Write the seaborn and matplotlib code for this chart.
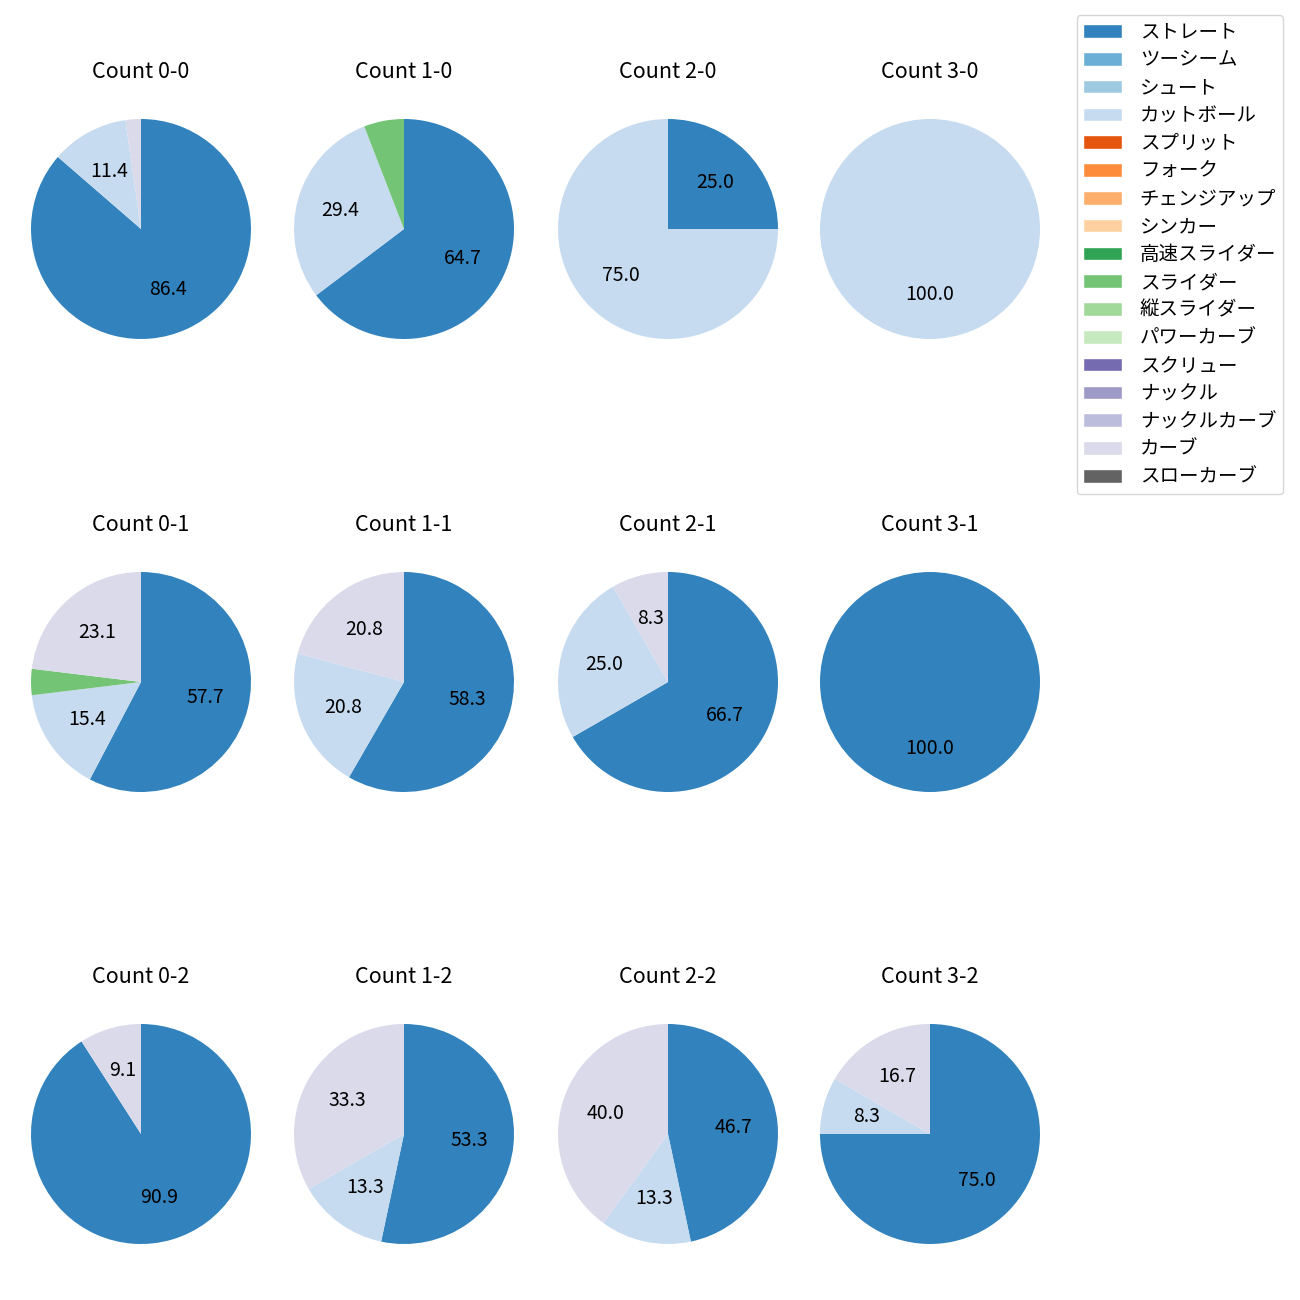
import matplotlib.pyplot as plt
import seaborn as sns
from matplotlib.patches import Patch

sns.set_style("white")
plt.rcParams["font.family"] = ["Noto Sans CJK JP", "DejaVu Sans"]
plt.rcParams["text.color"] = "black"

pitch_types = [
    "ストレート", "ツーシーム", "シュート", "カットボール",
    "スプリット", "フォーク", "チェンジアップ", "シンカー",
    "高速スライダー", "スライダー", "縦スライダー", "パワーカーブ",
    "スクリュー", "ナックル", "ナックルカーブ", "カーブ", "スローカーブ",
]
palette = sns.color_palette("tab20c", 17)
colors = dict(zip(pitch_types, palette))

# pitch counts per ball-strike count (balls, strikes)
counts = ["0-0", "1-0", "2-0", "3-0",
          "0-1", "1-1", "2-1", "3-1",
          "0-2", "1-2", "2-2", "3-2"]
straight = [38, 11, 1, 0, 15, 14, 8, 1, 10, 8, 7, 9]
cutball = [5, 5, 3, 1, 4, 5, 3, 0, 0, 2, 2, 1]
slider = [0, 1, 0, 0, 1, 0, 0, 0, 0, 0, 0, 0]
curve = [1, 0, 0, 0, 6, 5, 1, 0, 1, 5, 6, 2]

series = {
    "ストレート": straight,
    "カットボール": cutball,
    "スライダー": slider,
    "カーブ": curve,
}

fig, axes = plt.subplots(3, 4, figsize=(13, 13), dpi=100)
W, H = 1300, 1300
col_cx = [141, 404, 668, 930]
row_cy = [229, 682, 1134]
box = 275

for i, ax in enumerate(axes.flat):
    r, c = divmod(i, 4)
    names = [n for n in pitch_types if n in series and series[n][i] > 0]
    vals = [series[n][i] for n in names]
    ax.pie(
        vals,
        colors=[colors[n] for n in names],
        startangle=90,
        counterclock=False,
        autopct=lambda p: f"{p:.1f}" if p >= 7 else "",
        textprops={"fontsize": 14, "color": "black"},
        wedgeprops={"linewidth": 0},
    )
    ax.set_title(f"Count {counts[i]}", fontsize=15.5, pad=10)
    ax.set_position([
        (col_cx[c] - box / 2) / W,
        1 - (row_cy[r] + box / 2) / H,
        box / W,
        box / H,
    ])

handles = [Patch(facecolor=colors[n], label=n) for n in pitch_types]
fig.legend(
    handles=handles,
    loc="upper right",
    bbox_to_anchor=(1283 / W, 1 - 15 / H),
    borderaxespad=0,
    fontsize=14,
    labelspacing=0.35,
    handletextpad=0.9,
    borderpad=0.35,
)

fig.savefig("out.png", dpi=100)
